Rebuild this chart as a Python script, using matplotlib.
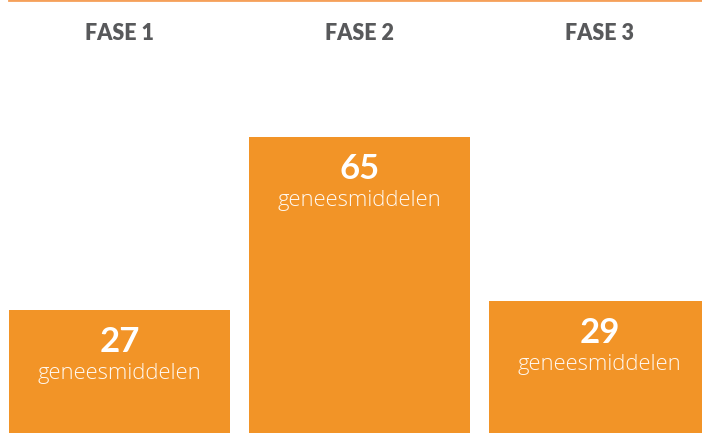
import matplotlib.pyplot as plt

fases = ["FASE 1", "FASE 2", "FASE 3"]
aantal = [27, 65, 29]
eenheid = "geneesmiddelen"

oranje = "#F29427"
grijs = "#58595B"

fig = plt.figure(figsize=(7.02, 4.33), dpi=100)
ax = fig.add_axes([0, 0, 1, 1])

x = range(len(fases))
ax.bar(x, aantal, width=221 / 240, color=oranje, linewidth=0)
ax.set_xlim(-119.5 / 240, (702 - 119.5) / 240)
ax.set_ylim(0, 433 / 4.555)
ax.axis("off")

# orange rule at the top
ax.plot([-110.5 / 240, 3], [1, 1], transform=ax.get_xaxis_transform(),
        color="#F5A05A", lw=2, clip_on=False)

for i, (f, n) in enumerate(zip(fases, aantal)):
    ax.text(i, 1 - 33.5 / 433, f, transform=ax.get_xaxis_transform(),
            ha="center", va="center", fontsize=15.5, fontweight="heavy",
            family="Lato", color=grijs)
    ax.annotate(str(n), (i, n), xytext=(0, -32), textcoords="offset pixels",
                ha="center", va="center", fontsize=25, fontweight="bold",
                family="Lato", color="white")
    ax.annotate(eenheid, (i, n), xytext=(0, -69), textcoords="offset pixels",
                ha="center", va="baseline", fontsize=15.8, fontweight="light",
                family="Open Sans", color="#FFF8F0")

fig.savefig("out.png", dpi=100)
